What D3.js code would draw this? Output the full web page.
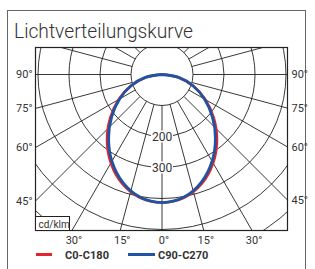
<!DOCTYPE html>
<html>
<head>
<meta charset="utf-8">
<script src="https://cdn.jsdelivr.net/npm/d3@7"></script>
<style>
  html, body { margin: 0; padding: 0; background: #fff; }
  svg { display: block; }
  text { font-family: Roboto, "Liberation Sans", sans-serif; fill: #333; }
</style>
</head>
<body>
<div id="chart"></div>
<script>
// Lichtverteilungskurve (cd/klm), values per gamma angle, symmetric planes
const gammaDeg = [0, 10, 20, 30, 40, 50, 60, 70, 80, 90];
const c0c180 = [413, 404, 375, 330, 276, 218, 162, 108, 55, 0];
const c90c270 = [413, 402, 370, 323, 268, 212, 158, 106, 54, 0];
const ringValues = [100, 200, 300, 400, 500, 600];
const ringLabels = [200, 300];
const sideAngles = [90, 75, 60, 45];
const bottomAngles = [-30, -15, 0, 15, 30];
const seriesNames = ['C0-C180', 'C90-C270'];
const seriesColors = ['#e3262d', '#2253a3'];

const width = 315, height = 269;
const box = { x0: 35.5, x1: 287.5, y0: 47.5, y1: 230.5 };
const cx = 162, cy = 74.5;

const svg = d3.select('#chart').append('svg')
    .attr('width', width)
    .attr('height', height);

// outer frame
svg.append('rect')
    .attr('x', 7.5).attr('y', 10.5)
    .attr('width', 298).attr('height', 280)
    .attr('fill', 'none')
    .attr('stroke', '#666')
    .attr('stroke-width', 1);

svg.append('text')
    .attr('x', 14).attr('y', 38)
    .attr('textLength', 179)
    .attr('lengthAdjust', 'spacingAndGlyphs')
    .style('font-size', '21px')
    .style('font-weight', 300)
    .text('Lichtverteilungskurve');

const r = d3.scaleLinear().domain([0, 100]).range([0, 31]);

svg.append('defs').append('clipPath')
    .attr('id', 'plotclip')
    .append('rect')
    .attr('x', box.x0).attr('y', box.y0)
    .attr('width', box.x1 - box.x0).attr('height', box.y1 - box.y0);

const plot = svg.append('g').attr('clip-path', 'url(#plotclip)');
const grid = plot.append('g').attr('transform', `translate(${cx},${cy})`);

// rings
grid.selectAll('circle.ring')
    .data(ringValues)
    .enter().append('circle')
    .attr('class', 'ring')
    .attr('r', d => r(d))
    .attr('fill', 'none')
    .attr('stroke', '#222')
    .attr('stroke-width', 0.9);

// rays every 15 degrees, starting at the first ring
grid.selectAll('line.ray')
    .data(d3.range(0, 360, 15))
    .enter().append('line')
    .attr('class', 'ray')
    .attr('x1', d => r(100) * Math.sin(d * Math.PI / 180))
    .attr('y1', d => r(100) * Math.cos(d * Math.PI / 180))
    .attr('x2', d => 400 * Math.sin(d * Math.PI / 180))
    .attr('y2', d => 400 * Math.cos(d * Math.PI / 180))
    .attr('stroke', '#222')
    .attr('stroke-width', 0.9);

// ring value labels on the 0 deg axis
const rl = grid.selectAll('g.rlab')
    .data(ringLabels)
    .enter().append('g')
    .attr('transform', d => `translate(0,${r(d)})`);
rl.append('rect')
    .attr('x', -11).attr('y', -6)
    .attr('width', 22).attr('height', 12)
    .attr('fill', '#fff');
rl.append('text')
    .attr('text-anchor', 'middle')
    .attr('dy', '0.36em')
    .style('font-size', '12px')
    .text(d => d);

// curves
const pts = vals => {
    const left = gammaDeg.slice(1).map((g, i) => ({ g: -g, v: vals[i + 1] })).reverse();
    const right = gammaDeg.map((g, i) => ({ g: g, v: vals[i] }));
    return left.concat(right);
};
const radial = d3.lineRadial()
    .angle(d => Math.PI - d.g * Math.PI / 180)
    .radius(d => r(d.v))
    .curve(d3.curveCatmullRom);

[c0c180, c90c270].forEach((vals, i) => {
    grid.append('path')
        .attr('d', radial(pts(vals)))
        .attr('fill', 'none')
        .attr('stroke', seriesColors[i])
        .attr('stroke-width', i === 0 ? 2.6 : 2.8);
});

// plot box
svg.append('rect')
    .attr('x', box.x0).attr('y', box.y0)
    .attr('width', box.x1 - box.x0).attr('height', box.y1 - box.y0)
    .attr('fill', 'none')
    .attr('stroke', '#222')
    .attr('stroke-width', 1.2);

// unit box
svg.append('rect')
    .attr('x', box.x0).attr('y', 216.5)
    .attr('width', 34).attr('height', box.y1 - 216.5)
    .attr('fill', '#fff')
    .attr('stroke', '#222')
    .attr('stroke-width', 1);
svg.append('text')
    .attr('x', box.x0 + 3).attr('y', 227.5)
    .style('font-size', '10px')
    .text('cd/klm');

// angle labels on the sides
const rad = d => d * Math.PI / 180;
sideAngles.forEach(a => {
    const yl = cy + (cx - box.x0) / Math.tan(rad(a));
    const yr = cy + (box.x1 - cx) / Math.tan(rad(a));
    svg.append('text')
        .attr('x', box.x0 - 3).attr('y', yl)
        .attr('dy', '0.36em')
        .attr('text-anchor', 'end')
        .style('font-size', '11px')
        .text(a + '°');
    svg.append('text')
        .attr('x', box.x1 + 4).attr('y', yr)
        .attr('dy', '0.36em')
        .style('font-size', '11px')
        .text(a + '°');
});
bottomAngles.forEach(a => {
    svg.append('text')
        .attr('x', cx + (box.y1 - cy) * Math.tan(rad(a)) + 2)
        .attr('y', 243.5)
        .attr('text-anchor', 'middle')
        .style('font-size', '11px')
        .text(Math.abs(a) + '°');
});

// legend
const legendX = [[36, 52, 65], [128, 155, 158]];
seriesNames.forEach((name, i) => {
    svg.append('line')
        .attr('x1', legendX[i][0]).attr('x2', legendX[i][1])
        .attr('y1', 254.5).attr('y2', 254.5)
        .attr('stroke', seriesColors[i])
        .attr('stroke-width', 3);
    svg.append('text')
        .attr('x', legendX[i][2]).attr('y', 258.5)
        .style('font-size', '11px')
        .style('font-weight', 'bold')
        .text(name);
});
</script>
</body>
</html>
